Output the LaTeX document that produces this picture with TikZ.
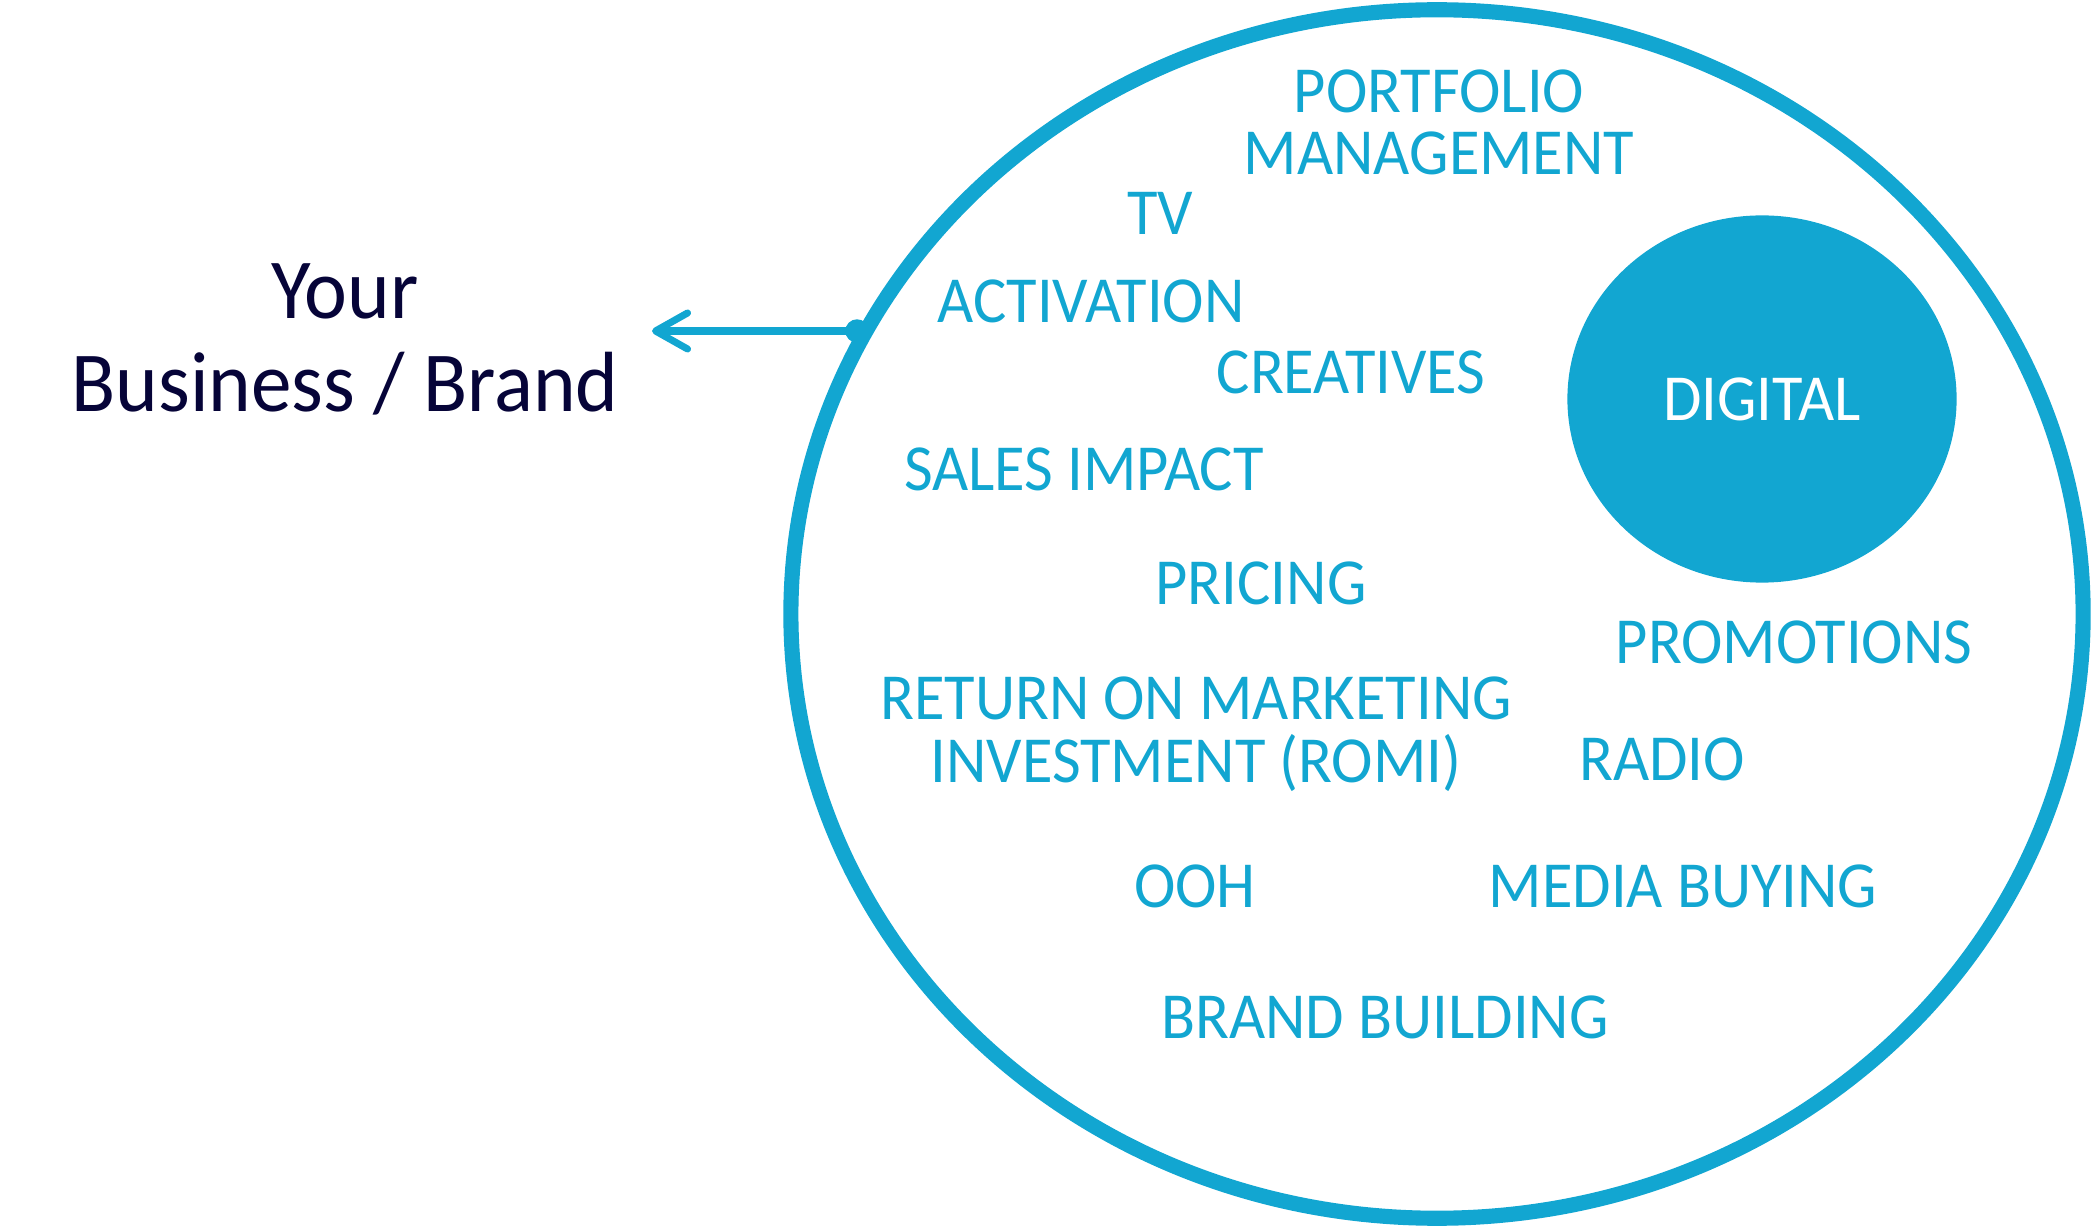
\documentclass[tikz,border=0pt]{standalone}
\usepackage{fontspec}
\setmainfont{Carlito}[FakeStretch=0.95]
\usetikzlibrary{shapes.geometric,arrows.meta}
\definecolor{mixblue}{RGB}{18,166,209}
\definecolor{brandnavy}{RGB}{6,4,56}

\begin{document}
\begin{tikzpicture}
  [x=0.01cm,y=-0.01cm,every node/.style={inner sep=0pt,outer sep=0pt},
   item/.style={anchor=base,align=center,text=mixblue,font=\fontsize{18.7}{17.9}\selectfont},
   brand/.style={anchor=base,align=center,text=brandnavy,font=\fontsize{24.3}{26.7}\selectfont}]
  \useasboundingbox (0,0) rectangle (2094,1228);

  \node[ellipse,draw=mixblue,line width=4.3pt,minimum width=12.915cm,minimum height=12.078cm] (mix) at (1437,614) {};
  \node[ellipse,fill=mixblue,minimum width=3.89cm,minimum height=3.67cm,text=white,font=\fontsize{18.7}{17.9}\selectfont] (digital) at (1762,399) {DIGITAL};

  % two-line items sit on their last baseline
  \node[item] (portfolio) at (1439,175) {PORTFOLIO\\MANAGEMENT};
  \node[item] (tv)        at (1160,235) {TV};
  \node[item] (activ)     at (1091,323) {ACTIVATION};
  \node[item] (creative)  at (1351,394) {CREATIVES};
  \node[item] (sales)     at (1084,491) {SALES IMPACT};
  \node[item] (pricing)   at (1261,605) {PRICING};
  \node[item] (promo)     at (1794,664) {PROMOTIONS};
  \node[item] (romi)      at (1196,782) {RETURN ON MARKETING\\INVESTMENT (ROMI)};
  \node[item] (radio)     at (1662,781) {RADIO};
  \node[item] (ooh)       at (1195,907) {OOH};
  \node[item] (media)     at (1683,907) {MEDIA BUYING};
  \node[item] (building)  at (1385,1038) {BRAND BUILDING};

  \node[brand] (brand) at (345,412) {Your\\Business / Brand};

  \node[circle,fill=mixblue,minimum size=0.234cm] (hook) at (857,331) {};
  \coordinate (tip) at (652,331);
  \draw[mixblue,line width=2pt,line cap=round,-{Straight Barb[length=0.32cm,width=0.36cm,round]}] (hook.center) -- (tip);

\end{tikzpicture}
\end{document}
